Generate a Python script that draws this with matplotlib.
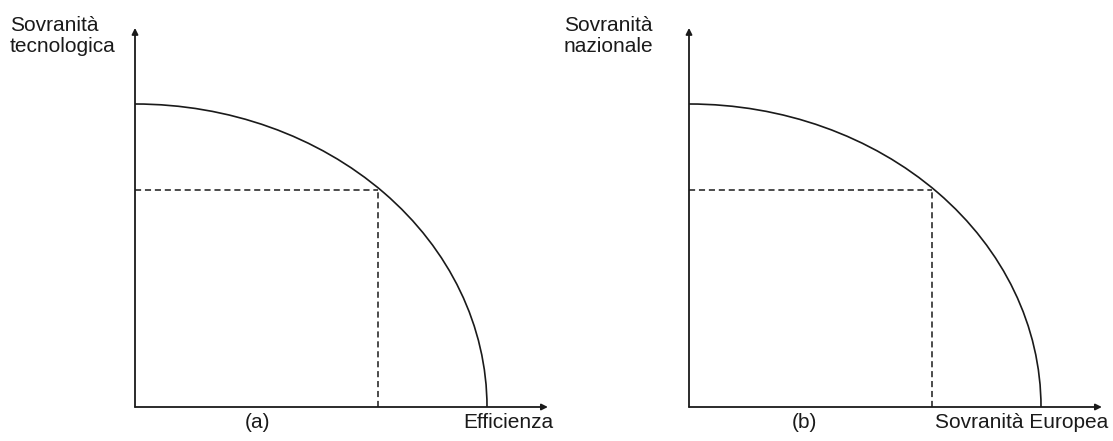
import matplotlib
matplotlib.use("Agg")
import matplotlib.pyplot as plt
from matplotlib.patches import Arc

# ---- data (normalised units: frontier meets axes at 1.0) ----
panels = ["(a)", "(b)"]
y_labels = ["Sovranità\ntecnologica", "Sovranità\nnazionale"]
x_labels = ["Efficienza", "Sovranità Europea"]
frontier_x_max = [1.0, 1.0]
frontier_y_max = [1.0, 1.0]
point_x = [0.69, 0.69]
point_y = [0.715, 0.715]
x_axis_end = 1.173
y_axis_end = 1.251

W, H = 1113, 441
fig = plt.figure(figsize=(W / 100, H / 100), dpi=100)
plt.rcParams['font.family'] = ['Liberation Sans', 'DejaVu Sans']
col = '#1a1a1a'
fs = 15

origins = [135, 689]   # pixel x of y axis
x_axis_px = 407
unit_x, unit_y = 352, 303

label_left = [10, 564]
xlab_right = [553, 1108]
panel_cx = [257, 804]

for i in range(2):
    ax = fig.add_axes([origins[i] / W, (H - x_axis_px) / H, unit_x / W, unit_y / H])
    ax.set_xlim(0, 1)
    ax.set_ylim(0, 1)
    ax.axis('off')
    # axes with arrows
    ax.annotate('', xy=(x_axis_end, 0), xytext=(0, 0),
                arrowprops=dict(arrowstyle='-|>', lw=1.3, color=col, mutation_scale=9,
                                shrinkA=0, shrinkB=0), annotation_clip=False)
    ax.annotate('', xy=(0, y_axis_end), xytext=(0, 0),
                arrowprops=dict(arrowstyle='-|>', lw=1.3, color=col, mutation_scale=9,
                                shrinkA=0, shrinkB=0), annotation_clip=False)
    # frontier
    arc = Arc((0, 0), 2 * frontier_x_max[i], 2 * frontier_y_max[i], theta1=0, theta2=90,
              color=col, lw=1.2, clip_on=False)
    ax.add_patch(arc)
    # dashed guides
    ax.plot([0, point_x[i]], [point_y[i], point_y[i]], ls=(0, (4, 2.5)), color=col, lw=1.1, clip_on=False)
    ax.plot([point_x[i], point_x[i]], [0, point_y[i]], ls=(0, (4, 2.5)), color=col, lw=1.1, clip_on=False)

    # texts in figure pixel coords
    fig.text(label_left[i] / W, 1 - 52 / H, y_labels[i], ha='left', va='baseline',
             fontsize=fs, color=col, linespacing=1.15)
    fig.text(xlab_right[i] / W, 1 - 428 / H, x_labels[i], ha='right', va='baseline',
             fontsize=fs, color=col)
    fig.text(panel_cx[i] / W, 1 - 428 / H, panels[i], ha='center', va='baseline',
             fontsize=fs, color=col)

fig.savefig('out.png', dpi=100)
